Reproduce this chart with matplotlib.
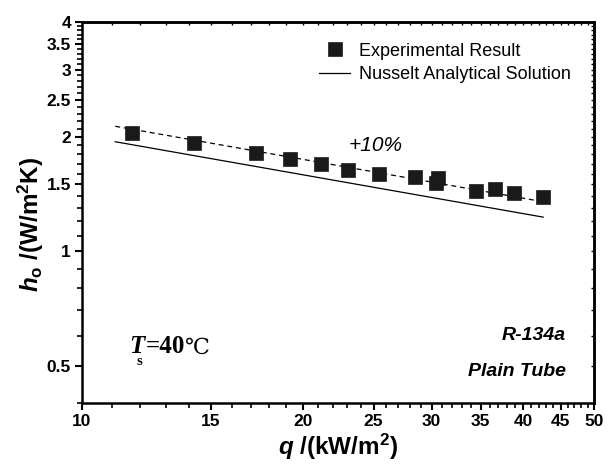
import matplotlib
matplotlib.use("Agg")
import matplotlib.pyplot as plt
from matplotlib.ticker import FixedLocator, NullFormatter, FixedFormatter

plt.rcParams['font.family'] = ['Liberation Sans', 'DejaVu Sans']
plt.rcParams['mathtext.fontset'] = 'custom'
plt.rcParams['mathtext.rm'] = 'Liberation Sans:bold'
plt.rcParams['mathtext.it'] = 'Liberation Sans:bold:italic'
plt.rcParams['mathtext.bf'] = 'Liberation Sans:bold'

# data
q_exp = [11.7, 14.2, 17.3, 19.2, 21.2, 23.1, 25.4, 28.5, 30.6, 30.4, 34.5, 36.6, 38.9, 42.6]
h_exp = [2.04, 1.93, 1.81, 1.75, 1.70, 1.64, 1.60, 1.57, 1.56, 1.51, 1.44, 1.46, 1.42, 1.39]
q_nus = [11.1, 42.6]
h_nus = [1.94, 1.23]
q_p10 = [11.1, 42.6]
h_p10 = [2.13, 1.35]

x_ticks = [10, 15, 20, 25, 30, 35, 40, 45, 50]
x_ticklabels = ['10', '15', '20', '25', '30', '35', '40', '45', '50']
y_ticks = [0.5, 1, 1.5, 2, 2.5, 3, 3.5, 4]
y_ticklabels = ['0.5', '1', '1.5', '2', '2.5', '3', '3.5', '4']
x_minor = [v for v in range(11, 50) if v % 5 != 0]
y_minor = [round(0.1 * i, 1) for i in range(4, 41) if i % 5 != 0]

fig = plt.figure(figsize=(6.14, 4.66), dpi=100)
ax = fig.add_axes([0.1336, 0.1352, 0.834, 0.8176])
ax.set_xscale('log')
ax.set_yscale('log')

ax.plot(q_exp, h_exp, 's', color='#1a1a1a', markersize=9.5, markeredgewidth=0.5,
        label='Experimental Result', zorder=3)
ax.plot(q_nus, h_nus, '-', color='black', lw=0.9, label='Nusselt Analytical Solution')
ax.plot(q_p10, h_p10, '--', color='black', lw=0.9, dashes=(4, 3))

ax.set_xlim(10, 50)
ax.set_ylim(0.4, 4)

ax.xaxis.set_major_locator(FixedLocator(x_ticks))
ax.xaxis.set_major_formatter(FixedFormatter(x_ticklabels))
ax.xaxis.set_minor_locator(FixedLocator(x_minor))
ax.xaxis.set_minor_formatter(NullFormatter())
ax.yaxis.set_major_locator(FixedLocator(y_ticks))
ax.yaxis.set_major_formatter(FixedFormatter(y_ticklabels))
ax.yaxis.set_minor_locator(FixedLocator(y_minor))
ax.yaxis.set_minor_formatter(NullFormatter())

for s in ax.spines.values():
    s.set_linewidth(1.8)
ax.tick_params(which='major', direction='out', length=5, width=1.5, labelsize=12.5,
               top=False, right=False, pad=3)
ax.tick_params(which='minor', direction='out', length=3.5, width=1.2, top=False, right=False)
for lab in ax.get_xticklabels() + ax.get_yticklabels():
    lab.set_fontweight('bold')

# top/right inward ticks
axt = ax.secondary_xaxis('top')
axt.xaxis.set_major_locator(FixedLocator(x_ticks))
axt.xaxis.set_minor_locator(FixedLocator(x_minor))
axt.tick_params(which='both', direction='in', length=2.5, width=1, labeltop=False)
axr = ax.secondary_yaxis('right')
axr.yaxis.set_major_locator(FixedLocator(y_ticks))
axr.yaxis.set_minor_locator(FixedLocator(y_minor))
axr.tick_params(which='both', direction='in', length=2.5, width=1, labelright=False)
axt.spines['top'].set_linewidth(1.8)
axr.spines['right'].set_linewidth(1.8)

ax.set_xlabel(r'$q$ /(kW/m$^2$)', fontsize=17.5, fontweight='bold')
ax.xaxis.set_label_coords(0.5, -0.075)
ax.set_ylabel(r'$h_\mathrm{o}$ /(W/m$^2$K)', fontsize=17.5, fontweight='bold')
ax.yaxis.set_label_coords(-0.07, 0.47)

leg = ax.legend(loc='upper left', frameon=False, fontsize=13, handlelength=1.7,
                handletextpad=0.5, labelspacing=0.35, borderaxespad=0,
                bbox_to_anchor=(0.449, 0.965))

ax.text(0.52, 0.676, '+10%', transform=ax.transAxes, fontsize=15, style='italic',
        va='center')

serif = ['Liberation Serif', 'DejaVu Serif']
t1 = ax.text(0.092, 0.13, 'T', transform=ax.transAxes, fontsize=18, family=serif,
             fontweight='bold', style='italic')
ax.annotate('s', xy=(1, 0), xycoords=t1, xytext=(-5.5, -5), textcoords='offset points',
            fontsize=10.5, family=serif, fontweight='bold', va='baseline')
t3 = ax.annotate('=40', xy=(1, 0), xycoords=t1, xytext=(1.0, 0), textcoords='offset points',
                 fontsize=18, family=serif, fontweight='bold', va='bottom')
ax.annotate('\u2103', xy=(1, 0), xycoords=t3, xytext=(0, 0), textcoords='offset points',
            fontsize=16, family=serif, va='bottom')

ax.text(0.945, 0.176, 'R-134a', transform=ax.transAxes, fontsize=14, fontweight='bold',
        style='italic', ha='right', va='center')
ax.text(0.945, 0.082, 'Plain Tube', transform=ax.transAxes, fontsize=14, fontweight='bold',
        style='italic', ha='right', va='center')

fig.savefig('out.png', dpi=100)
